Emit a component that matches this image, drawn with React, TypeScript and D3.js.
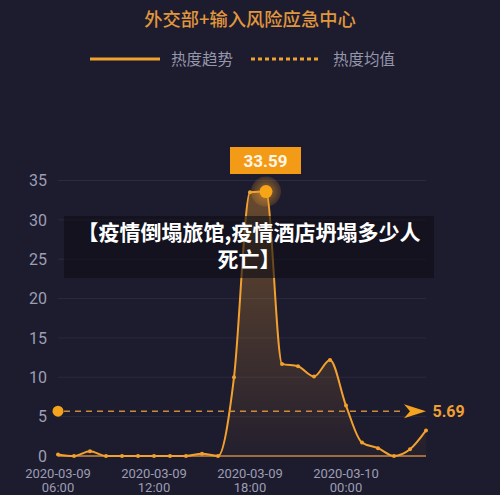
import React from "react";
import * as d3 from "d3";

const title = "外交部+输入风险应急中心";
const legendNames = ["热度趋势", "热度均值"];
const hours = [
  "06:00", "07:00", "08:00", "09:00", "10:00", "11:00", "12:00", "13:00",
  "14:00", "15:00", "16:00", "17:00", "18:00", "19:00", "20:00", "21:00",
  "22:00", "23:00", "00:00", "01:00", "02:00", "03:00", "04:00", "05:00",
];
const dates = [
  "2020-03-09", "2020-03-09", "2020-03-09", "2020-03-09", "2020-03-09", "2020-03-09",
  "2020-03-09", "2020-03-09", "2020-03-09", "2020-03-09", "2020-03-09", "2020-03-09",
  "2020-03-09", "2020-03-09", "2020-03-09", "2020-03-09", "2020-03-09", "2020-03-09",
  "2020-03-10", "2020-03-10", "2020-03-10", "2020-03-10", "2020-03-10", "2020-03-10",
];
const values = [
  0.2, 0, 0.6, 0, 0, 0, 0, 0, 0, 0.3, 0, 10, 33.5, 33.59, 11.7, 11.4,
  10.1, 12.2, 6.4, 1.7, 1.0, 0, 0.85, 3.25,
];
const meanValue = 5.69;
const peakIndex = 13;
const xTickIdx = [0, 6, 12, 18];
const yTicks = [0, 5, 10, 15, 20, 25, 30, 35];
const caption1 = "【疫情倒塌旅馆,疫情酒店坍塌多少人";
const caption2 = "死亡】";

const BG = "#1d1b2e";
const ORANGE = "#f2a12e";
const cjk = "'Noto Sans CJK SC', 'Noto Sans', sans-serif";
const num = "Roboto, 'Noto Sans', sans-serif";

export default function App() {
  const W = 500, H = 495;
  const x = d3.scaleLinear().domain([0, values.length - 1]).range([58, 426]);
  const y = d3.scaleLinear().domain([0, 35]).range([456, 180.5]);
  const line = d3.line<number>().x((_, i) => x(i)).y((d) => y(d)).curve(d3.curveMonotoneX);
  const area = d3.area<number>().x((_, i) => x(i)).y0(y(0)).y1((d) => y(d)).curve(d3.curveMonotoneX);
  const my = y(meanValue);
  const px = x(peakIndex), py = y(values[peakIndex]);
  const ax = x(values.length - 1);

  return (
    <svg width={W} height={H} style={{ position: "absolute", left: 0, top: 0, display: "block" }}>
      <defs>
        <linearGradient id="areaGrad" x1="0" y1="0" x2="0" y2="1">
          <stop offset="0%" stopColor={ORANGE} stopOpacity={0.35} />
          <stop offset="100%" stopColor={ORANGE} stopOpacity={0.03} />
        </linearGradient>
        <radialGradient id="glow">
          <stop offset="0%" stopColor={ORANGE} stopOpacity={0.6} />
          <stop offset="100%" stopColor={ORANGE} stopOpacity={0.15} />
        </radialGradient>
      </defs>
      <rect x={0} y={0} width={W} height={H} fill={BG} />

      <text x={250} y={26} textAnchor="middle" fill="#e0973d" fontSize={18.3} fontFamily={cjk} fontWeight={500}>
        {title}
      </text>

      <line x1={90} x2={160} y1={59} y2={59} stroke={ORANGE} strokeWidth={3} />
      <text x={171} y={64.5} fill="#9597ab" fontSize={15.5} fontFamily={cjk}>{legendNames[0]}</text>
      <line x1={251} x2={321} y1={59} y2={59} stroke={ORANGE} strokeWidth={3} strokeDasharray="4 3" />
      <text x={333} y={64.5} fill="#9597ab" fontSize={15.5} fontFamily={cjk}>{legendNames[1]}</text>

      {yTicks.filter((t) => t > 0).map((t) => (
        <line key={t} x1={58} x2={426} y1={y(t)} y2={y(t)} stroke="#2b2a40" strokeWidth={1} />
      ))}
      {yTicks.map((t) => (
        <text key={"l" + t} x={47} y={y(t)} dy="0.36em" textAnchor="end" fill="#9c9eb3" fontSize={16} fontFamily={num}>
          {t}
        </text>
      ))}
      {xTickIdx.map((i) => (
        <g key={"x" + i}>
          <text x={x(i)} y={477.5} textAnchor="middle" fill="#9c9eb3" fontSize={13} fontFamily={num}>{dates[i]}</text>
          <text x={x(i)} y={492} textAnchor="middle" fill="#9c9eb3" fontSize={13} fontFamily={num}>{hours[i]}</text>
        </g>
      ))}

      <path d={area(values) || ""} fill="url(#areaGrad)" />
      <line x1={58} x2={426} y1={y(0)} y2={y(0)} stroke="#c88a45" strokeWidth={1.5} />
      <path d={line(values) || ""} fill="none" stroke={ORANGE} strokeWidth={2} />
      {values.map((v, i) => (
        <circle key={"p" + i} cx={x(i)} cy={y(v)} r={2} fill={ORANGE} />
      ))}

      <line x1={64} x2={405} y1={my} y2={my} stroke="#e0953c" strokeWidth={1.5} strokeDasharray="6 5" opacity={0.9} />
      <circle cx={x(0)} cy={my} r={5.5} fill="#f5a21c" />
      <path
        d={`M${ax},${my} L${ax - 22},${my - 7} L${ax - 16},${my} L${ax - 22},${my + 7} Z`}
        fill="#f5a21c"
      />
      <text x={432.5} y={my} dy="0.36em" fill="#f0a030" fontSize={16} fontWeight={700} fontFamily={num}>
        {meanValue.toFixed(2)}
      </text>

      <circle cx={px} cy={py} r={15} fill="url(#glow)" />
      <circle cx={px} cy={py} r={6.5} fill="#f7a417" />
      <rect x={230} y={147} width={71} height={27} fill="#f39b16" />
      <text x={265.5} y={160.5} dy="0.36em" textAnchor="middle" fill="#fff6e8" fontSize={17} fontWeight={700} fontFamily={num}>
        {values[peakIndex].toFixed(2)}
      </text>

      <rect x={64} y={216} width={370} height={62} fill="#0e0d14" opacity={0.6} />
      <text textAnchor="middle" fill="#ffffff" fontSize={21} fontWeight={700} fontFamily={cjk}>
        <tspan x={249} y={240}>{caption1}</tspan>
        <tspan x={249} y={266.5}>{caption2}</tspan>
      </text>
    </svg>
  );
}
